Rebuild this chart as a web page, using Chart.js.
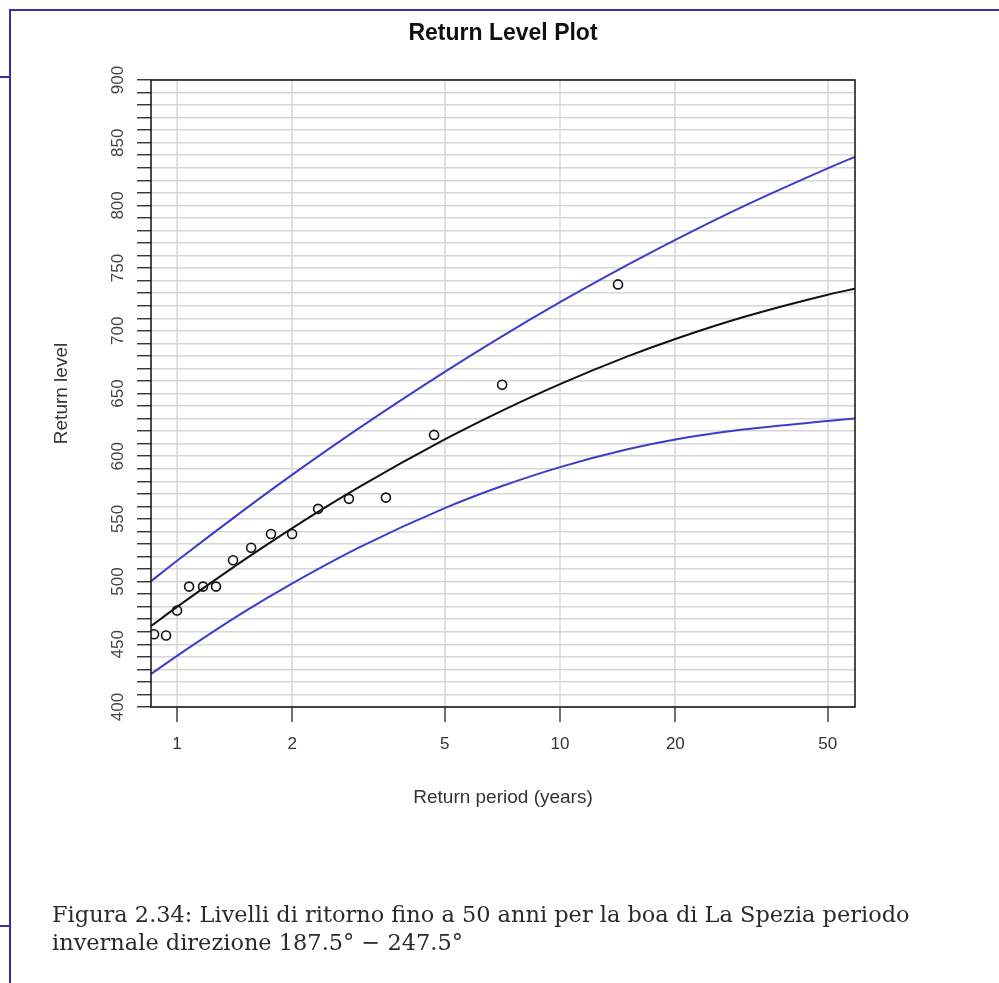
<!DOCTYPE html>
<html>
<head>
<meta charset="utf-8">
<script src="https://cdn.jsdelivr.net/npm/chart.js@4.4.1/dist/chart.umd.min.js"></script>
<style>
  html, body { margin: 0; padding: 0; background: #fff; }
  #wrap { position: relative; width: 999px; height: 983px; overflow: hidden; }
  #chart { position: absolute; left: 0; top: 0; }
  .frame { position: absolute; background: #33339a; }
  #caption { position: absolute; left: 52px; top: 900px; font-family: "DejaVu Serif", serif; color: #2a2a2a; line-height: 28px; white-space: nowrap; }
</style>
</head>
<body>
<div id="wrap">
  <canvas id="chart" width="999" height="983"></canvas>
  <div class="frame" style="left:9px; top:9px; width:990px; height:2px"></div>
  <div class="frame" style="left:9px; top:9px; width:2px; height:974px"></div>
  <div class="frame" style="left:0; top:76px; width:10px; height:2px"></div>
  <div class="frame" style="left:0; top:925px; width:10px; height:2px"></div>
  <div id="caption">
    <div id="cap1">Figura 2.34: Livelli di ritorno fino a 50 anni per la boa di La Spezia periodo</div>
    <div>invernale direzione 187.5° − 247.5°</div>
  </div>
</div>
<script>
// tick labels
const xTicks = [1, 2, 5, 10, 20, 50];

// observed points (return period in years, level)
const obsPeriod = [0.871, 0.936, 1.0, 1.075, 1.169, 1.264, 1.40, 1.561, 1.759, 1.997, 2.335, 2.81, 3.51, 4.69, 7.06, 14.17];
const obsLevel = [458, 457, 477, 496, 496, 496, 517, 527, 538, 538, 558, 566, 567, 617, 657, 737];

// fitted return level curve and confidence bounds
const curvePeriod = [0.855, 1, 1.5, 2, 3, 5, 7, 10, 15, 20, 30, 50, 58.9];
const fitLevel = [464.5, 479.8, 517.5, 542.7, 575.7, 613.4, 635.8, 657.5, 679.6, 693.5, 710.8, 728.8, 733.6];
const upperLevel = [500.3, 516.6, 557.4, 585.3, 622.8, 667.3, 695.0, 722.8, 752.5, 772.5, 799.0, 829.5, 838.7];
const lowerLevel = [426.3, 440.8, 476.0, 498.6, 527.5, 558.6, 575.8, 591.3, 605.5, 613.3, 621.2, 628.1, 630.1];

const pts = (xs, ys) => xs.map((x, i) => ({ x: x, y: ys[i] }));
const BLUE = '#3d3dc8';
const FONT = 'Liberation Sans, Arial, sans-serif';

function curve(label, data, color) {
    return {
        label: label,
        data: data,
        showLine: true,
        borderColor: color,
        borderWidth: 2,
        pointRadius: 0,
        cubicInterpolationMode: 'monotone',
        fill: false
    };
}

// black box round the plot area
const plotBox = {
    id: 'plotBox',
    afterDraw(chart) {
        const a = chart.chartArea, ctx = chart.ctx;
        ctx.save();
        ctx.strokeStyle = '#111';
        ctx.lineWidth = 1.5;
        ctx.strokeRect(a.left, a.top, a.right - a.left, a.bottom - a.top);
        ctx.restore();
    }
};

new Chart(document.getElementById('chart'), {
    type: 'scatter',
    data: {
        datasets: [
            curve('Upper', pts(curvePeriod, upperLevel), BLUE),
            curve('Lower', pts(curvePeriod, lowerLevel), BLUE),
            curve('Fit', pts(curvePeriod, fitLevel), '#111'),
            {
                label: 'Observed',
                data: pts(obsPeriod, obsLevel),
                pointStyle: 'circle',
                pointRadius: 4.5,
                borderColor: '#111',
                borderWidth: 1.6,
                backgroundColor: 'rgba(0,0,0,0)'
            }
        ]
    },
    options: {
        responsive: false,
        animation: false,
        events: [],
        layout: { padding: { left: 30, right: 144, top: 0, bottom: 166 } },
        plugins: {
            legend: { display: false },
            tooltip: { enabled: false },
            title: {
                display: true,
                fullSize: false,
                text: 'Return Level Plot',
                color: '#111',
                font: { family: FONT, size: 23, weight: 'bold' },
                padding: { top: 20, bottom: 32.4 }
            }
        },
        scales: {
            x: {
                type: 'logarithmic',
                min: 0.855,
                max: 58.9,
                afterBuildTicks: s => { s.ticks = xTicks.map(v => ({ value: v })); },
                afterFit: s => { s.height = 110; },
                ticks: {
                    color: '#333',
                    font: { family: FONT, size: 17 },
                    padding: 12,
                    autoSkip: false,
                    maxRotation: 0,
                    callback: v => String(v)
                },
                grid: { color: '#e2e2e2', lineWidth: 2, tickColor: '#222', tickLength: 15, tickWidth: 1.3 },
                border: { display: false },
                title: {
                    display: true,
                    text: 'Return period (years)',
                    color: '#333',
                    font: { family: FONT, size: 19 },
                    padding: { top: 0, bottom: 8 }
                }
            },
            y: {
                min: 400,
                max: 900,
                afterFit: s => { s.width = 121; },
                ticks: {
                    stepSize: 10,
                    autoSkip: false,
                    minRotation: 90,
                    maxRotation: 90,
                    crossAlign: 'center',
                    color: '#444',
                    font: { family: FONT, size: 17 },
                    padding: 5,
                    callback: v => (v % 50 === 0 ? String(v) : '')
                },
                grid: { color: '#d6d6d6', lineWidth: 1.5, tickColor: '#222', tickLength: 14, tickWidth: 1.3 },
                border: { display: false },
                title: {
                    display: true,
                    text: 'Return level',
                    color: '#333',
                    font: { family: FONT, size: 19 },
                    padding: { top: 20.6, bottom: 0 }
                }
            }
        }
    },
    plugins: [plotBox]
});

// fit the caption's first line to the width it has in the figure
const cap = document.getElementById('caption');
const cap1 = document.getElementById('cap1');
cap.style.fontSize = '20px';
const w = cap1.getBoundingClientRect().width;
cap.style.fontSize = (20 * 858 / w).toFixed(2) + 'px';
</script>
</body>
</html>
